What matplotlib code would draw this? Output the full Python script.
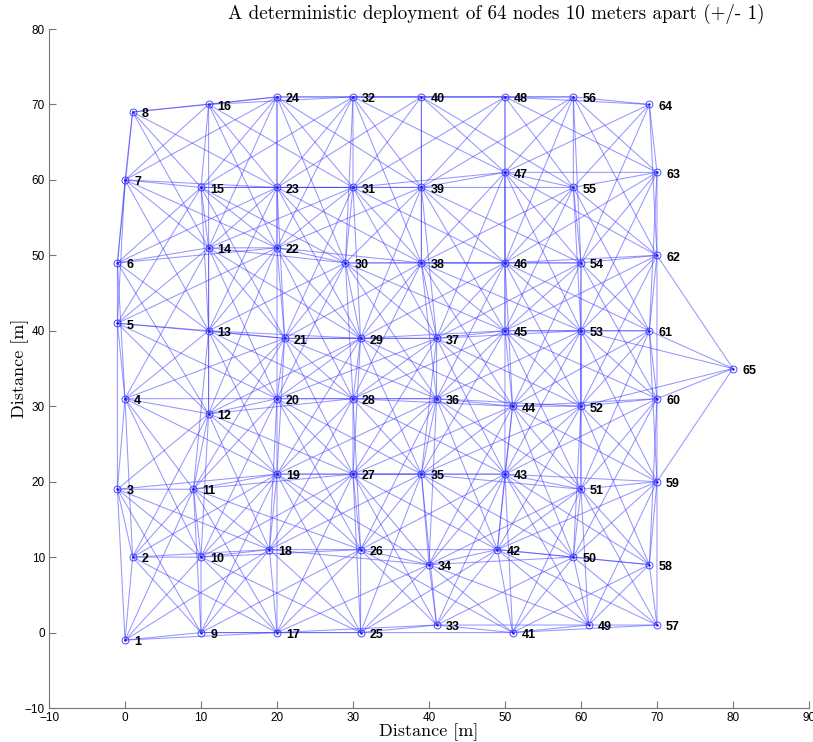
import numpy as np
import matplotlib
matplotlib.use('Agg')
import matplotlib.pyplot as plt

# node coordinates (node 1..65)
node_x = [0, 1, -1, 0, -1, -1, 0, 1,
          10, 10, 9, 11, 11, 11, 10, 11,
          20, 19, 20, 20, 21, 20, 20, 20,
          31, 31, 30, 30, 31, 29, 30, 30,
          41, 40, 39, 41, 41, 39, 39, 39,
          51, 49, 50, 51, 50, 50, 50, 50,
          61, 59, 60, 60, 60, 60, 59, 59,
          70, 69, 70, 70, 69, 70, 70, 69,
          80]
node_y = [-1, 10, 19, 31, 41, 49, 60, 69,
          0, 10, 19, 29, 40, 51, 59, 70,
          0, 11, 21, 31, 39, 51, 59, 71,
          0, 11, 21, 31, 39, 49, 59, 71,
          1, 9, 21, 31, 39, 49, 59, 71,
          0, 11, 21, 30, 40, 49, 61, 71,
          1, 10, 19, 30, 40, 49, 59, 71,
          1, 9, 20, 31, 40, 50, 61, 70,
          35]
node_ids = list(range(1, len(node_x) + 1))
link_range = 24.0  # radio range [m]

x_ticks = list(range(-10, 91, 10))
y_ticks = list(range(-10, 81, 10))

serif = ['cmr10', 'DejaVu Serif']
sans = ['Liberation Sans', 'DejaVu Sans']

fig = plt.figure(figsize=(8.13, 7.42), dpi=100)
ax = fig.add_axes([0.0603, 0.0458, 0.9347, 0.9151])

xs = np.array(node_x, dtype=float)
ys = np.array(node_y, dtype=float)

# links between all nodes within range
for i in range(len(xs)):
    for j in range(i + 1, len(xs)):
        d = np.hypot(xs[i] - xs[j], ys[i] - ys[j])
        if d <= link_range:
            ax.plot([xs[i], xs[j]], [ys[i], ys[j]], color='#3030ff',
                    lw=0.75, alpha=0.5, snap=False, zorder=1)

ax.plot(xs, ys, 'o', mfc='none', mec='#3030ff', ms=5, mew=0.6, zorder=2)
ax.plot(xs, ys, '.', color='#2020e0', ms=1.5, zorder=2)

for n, x, y in zip(node_ids, xs, ys):
    ax.text(x + 1.2, y - 0.3, str(n), fontsize=9, fontweight='bold',
            family=sans, ha='left', va='center', zorder=3)

ax.set_xlim(-10, 90)
ax.set_ylim(-10, 80)
ax.set_xticks(x_ticks)
ax.set_yticks(y_ticks)
for lab in ax.get_xticklabels() + ax.get_yticklabels():
    lab.set_family(sans)
    lab.set_fontsize(8.5)
ax.tick_params(direction='in', length=5, color='#777777', width=0.8, pad=3)
for side in ['top', 'right']:
    ax.spines[side].set_visible(False)
for side in ['left', 'bottom']:
    ax.spines[side].set_color('#777777')
    ax.spines[side].set_linewidth(0.8)

ax.set_xlabel('Distance [m]', family=serif, fontsize=13, labelpad=-1)
ax.set_ylabel('Distance [m]', family=serif, fontsize=13, labelpad=-3)
fig.text(0.611, 0.981, 'A deterministic deployment of 64 nodes 10 meters apart (+/- 1)',
         family=serif, fontsize=13.7, ha='center', va='center')

plt.savefig('out.png', dpi=100, facecolor='white')
